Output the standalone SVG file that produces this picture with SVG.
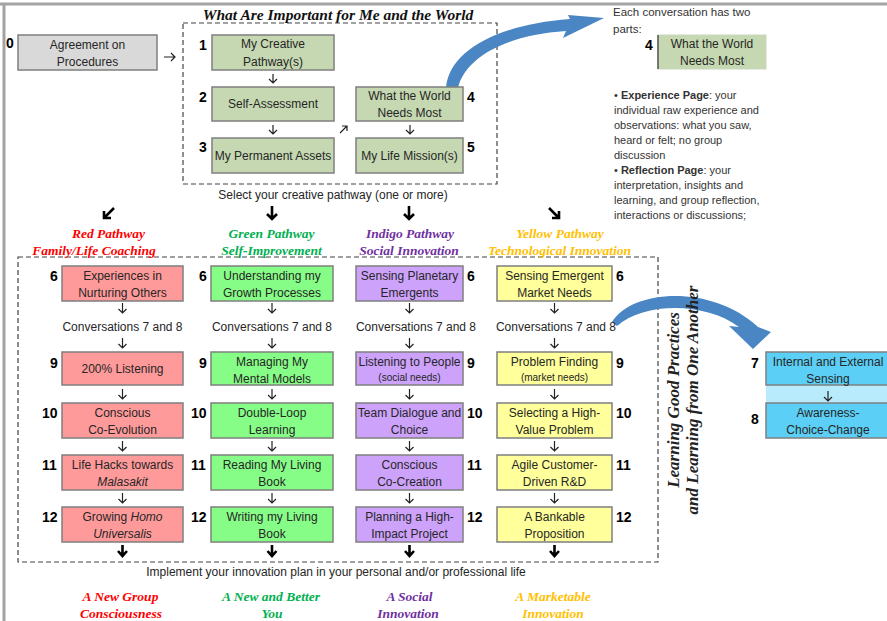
<svg xmlns="http://www.w3.org/2000/svg" width="887" height="621" viewBox="0 0 887 621">
<style>
.t{font-family:"Liberation Sans",Arial,sans-serif;font-size:12px;fill:#262626;text-anchor:middle}
.s{font-size:10px}
.n{font-family:"Liberation Sans",Arial,sans-serif;font-size:14px;font-weight:bold;fill:#000}
.h{font-family:"Liberation Serif","Times New Roman",serif;font-size:13.5px;font-weight:bold;font-style:italic;text-anchor:middle}
.v{font-size:17px;fill:#222}
.p{font-family:"Liberation Sans",Arial,sans-serif;font-size:11px;fill:#333}
.p2{font-size:11.5px}
.bx{stroke:#7f7f7f;stroke-width:1.5}
.g0{fill:#d9d9d9}.gg{fill:#c5d8b1}.r{fill:#ff9a9a}.gr{fill:#86fd86}.ig{fill:#cda2fb}.y{fill:#ffff9b}.bl{fill:#5ccff6}
.sa{fill:none;stroke:#222;stroke-width:1.2}
.ba{fill:none;stroke:#000;stroke-width:2.6}
.dash{fill:none;stroke:#444;stroke-width:1.2;stroke-dasharray:5,3}
.red{fill:#ff0000}.grn{fill:#00b050}.ind{fill:#7030a0}.yel{fill:#ffc000}
.arr{fill:#4a86c4}
</style>

<!-- frame -->
<line x1="0" y1="4" x2="887" y2="4" stroke="#a3a3a3" stroke-width="3"/>
<line x1="4" y1="4" x2="4" y2="621" stroke="#a3a3a3" stroke-width="3"/>

<text x="338" y="20" font-family="Liberation Serif,Times New Roman,serif" font-size="15.5" font-weight="bold" font-style="italic" text-anchor="middle" fill="#111">What Are Important for Me and the World</text>
<rect class="dash" x="183" y="23" width="314" height="161"/>
<rect class="dash" x="18" y="257" width="640" height="305"/>

<!-- connectors -->
<g id="connectors">
  <path class="sa" d="M164 57H175M171 53L175 57L171 61"/>
  <path class="sa" d="M273 74V83M269 79L273 83L277 79"/>
  <path class="sa" d="M273 125V134M269 130L273 134L277 130"/>
  <path class="sa" d="M410 125V134M406 130L410 134L414 130"/>
  <path class="sa" d="M340 133L347 126M342 126H347V131"/>
  <path class="ba" d="M114 208L104 218M104 211V218H111"/>
  <path class="ba" d="M272 206V219M267 214L272 219L277 214"/>
  <path class="ba" d="M409 206V219M404 214L409 219L414 214"/>
  <path class="ba" d="M549 208L559 218M559 211V218H552"/>
  <g id="colarrows">
    <path class="sa" d="M122.5 303V313M118.5 309L122.5 313L126.5 309M122.5 338V348M118.5 344L122.5 348L126.5 344M122.5 389V399M118.5 395L122.5 399L126.5 395M122.5 441V451M118.5 447L122.5 451L126.5 447M122.5 493V503M118.5 499L122.5 503L126.5 499"/>
    <path class="sa" d="M272 303V313M268 309L272 313L276 309M272 338V348M268 344L272 348L276 344M272 389V399M268 395L272 399L276 395M272 441V451M268 447L272 451L276 447M272 493V503M268 499L272 503L276 499"/>
    <path class="sa" d="M409.5 303V313M405.5 309L409.5 313L413.5 309M409.5 338V348M405.5 344L409.5 348L413.5 344M409.5 389V399M405.5 395L409.5 399L413.5 395M409.5 441V451M405.5 447L409.5 451L413.5 447M409.5 493V503M405.5 499L409.5 503L413.5 499"/>
    <path class="sa" d="M554.5 303V313M550.5 309L554.5 313L558.5 309M554.5 338V348M550.5 344L554.5 348L558.5 344M554.5 389V399M550.5 395L554.5 399L558.5 395M554.5 441V451M550.5 447L554.5 451L558.5 447M554.5 493V503M550.5 499L554.5 503L558.5 499"/>
    <path class="ba" d="M122.5 545V556M118 551L122.5 556L127 551M272 545V556M267.5 551L272 556L276.5 551M409.5 545V556M405 551L409.5 556L414 551M554.5 545V556M550 551L554.5 556L559 551"/>
  </g>
  <path class="arr" d="M446 88C449 50 500 24 570 19L568 15L604 18L563 38L566 31C505 35 465 58 458 88Z"/>
  <path class="arr" d="M612 322C632 289 712 284 758 327L771 332L753 349L729 326L739 327C705 302 645 302 617 326Z"/>
</g>

<!-- top section -->
<g id="n0"><rect class="bx g0" x="18" y="35" width="139" height="35"/><text class="n" x="6" y="48">0</text><text class="t" x="87.5" y="49">Agreement on</text><text class="t" x="87.5" y="66">Procedures</text></g>
<g id="n1"><rect class="bx gg" x="212" y="35" width="122" height="35"/><text class="n" x="199" y="50">1</text><text class="t" x="273" y="48">My Creative</text><text class="t" x="273" y="66">Pathway(s)</text></g>
<g id="n2"><rect class="bx gg" x="212" y="87" width="122" height="34"/><text class="n" x="199" y="102">2</text><text class="t" x="273" y="108">Self-Assessment</text></g>
<g id="n3"><rect class="bx gg" x="212" y="138" width="122" height="35"/><text class="n" x="199" y="152">3</text><text class="t" x="273" y="160">My Permanent Assets</text></g>
<g id="n4"><rect class="bx gg" x="356" y="87" width="107" height="34"/><text class="n" x="467" y="102">4</text><text class="t" x="409.5" y="100">What the World</text><text class="t" x="409.5" y="117">Needs Most</text></g>
<g id="n5"><rect class="bx gg" x="356" y="138" width="107" height="35"/><text class="n" x="467" y="152">5</text><text class="t" x="409.5" y="160">My Life Mission(s)</text></g>

<text class="t" x="333" y="199">Select your creative pathway (one or more)</text>

<!-- right panel -->
<g id="panel">
<text class="p p2" x="613" y="16">Each conversation has two</text>
<text class="p p2" x="613" y="33">parts:</text>
<rect class="gg" x="658" y="35" width="108" height="34" stroke="#c9d6bd" stroke-width="1"/>
<line x1="658" y1="35" x2="658" y2="69" stroke="#555" stroke-width="1.5"/>
<text class="n" x="645" y="50">4</text>
<text class="t" x="712" y="48">What the World</text>
<text class="t" x="712" y="65">Needs Most</text>
<text class="p" x="614" y="99">• <tspan font-weight="bold">Experience Page</tspan>:  your</text>
<text class="p" x="614" y="114">individual raw experience and</text>
<text class="p" x="614" y="129">observations: what you saw,</text>
<text class="p" x="614" y="144">heard or felt; no group</text>
<text class="p" x="614" y="159">discussion</text>
<text class="p" x="614" y="174">• <tspan font-weight="bold">Reflection Page</tspan>: your</text>
<text class="p" x="614" y="189">interpretation, insights and</text>
<text class="p" x="614" y="204">learning, and group reflection,</text>
<text class="p" x="614" y="219">interactions or discussions;</text>
</g>

<!-- headers -->
<text class="h red" x="108.5" y="238">Red Pathway</text>
<text class="h red" x="94" y="255">Family/Life Coaching</text>
<text class="h grn" x="271.5" y="238">Green Pathway</text>
<text class="h grn" x="271.5" y="255">Self-Improvement</text>
<text class="h ind" x="410" y="238">Indigo Pathway</text>
<text class="h ind" x="409" y="255">Social Innovation</text>
<text class="h yel" x="560" y="238">Yellow Pathway</text>
<text class="h yel" x="559.5" y="255">Technological Innovation</text>

<!-- red column -->
<g id="r6"><rect class="bx r" x="62" y="266" width="121" height="35"/><text class="n" x="50" y="281">6</text><text class="t" x="122.5" y="280">Experiences in</text><text class="t" x="122.5" y="297">Nurturing Others</text></g>
<text class="t" x="122.5" y="331">Conversations 7 and 8</text>
<g id="r9"><rect class="bx r" x="62" y="352" width="121" height="33"/><text class="n" x="50" y="368">9</text><text class="t" x="122.5" y="373">200% Listening</text></g>
<g id="r10"><rect class="bx r" x="62" y="403" width="121" height="35"/><text class="n" x="42" y="418">10</text><text class="t" x="122.5" y="417">Conscious</text><text class="t" x="122.5" y="434">Co-Evolution</text></g>
<g id="r11"><rect class="bx r" x="62" y="455" width="121" height="35"/><text class="n" x="42" y="470">11</text><text class="t" x="122.5" y="469">Life Hacks towards</text><text class="t" x="122.5" y="486" font-style="italic">Malasakit</text></g>
<g id="r12"><rect class="bx r" x="62" y="507" width="121" height="35"/><text class="n" x="42" y="522">12</text><text class="t" x="122.5" y="521">Growing <tspan font-style="italic">Homo</tspan></text><text class="t" x="122.5" y="538" font-style="italic">Universalis</text></g>

<!-- green column -->
<g id="g6"><rect class="bx gr" x="211" y="266" width="122" height="35"/><text class="n" x="199" y="281">6</text><text class="t" x="272" y="280">Understanding my</text><text class="t" x="272" y="297">Growth Processes</text></g>
<text class="t" x="272" y="331">Conversations 7 and 8</text>
<g id="g9"><rect class="bx gr" x="211" y="352" width="122" height="33"/><text class="n" x="199" y="368">9</text><text class="t" x="272" y="366">Managing My</text><text class="t" x="272" y="383">Mental Models</text></g>
<g id="g10"><rect class="bx gr" x="211" y="403" width="122" height="35"/><text class="n" x="191" y="418">10</text><text class="t" x="272" y="417">Double-Loop</text><text class="t" x="272" y="434">Learning</text></g>
<g id="g11"><rect class="bx gr" x="211" y="455" width="122" height="35"/><text class="n" x="191" y="470">11</text><text class="t" x="272" y="469">Reading My Living</text><text class="t" x="272" y="486">Book</text></g>
<g id="g12"><rect class="bx gr" x="211" y="507" width="122" height="35"/><text class="n" x="191" y="522">12</text><text class="t" x="272" y="521">Writing my Living</text><text class="t" x="272" y="538">Book</text></g>

<!-- indigo column -->
<g id="i6"><rect class="bx ig" x="356" y="266" width="107" height="35"/><text class="n" x="467" y="281">6</text><text class="t" x="409.5" y="280">Sensing Planetary</text><text class="t" x="409.5" y="297">Emergents</text></g>
<text class="t" x="416" y="331">Conversations 7 and 8</text>
<g id="i9"><rect class="bx ig" x="356" y="352" width="107" height="33"/><text class="n" x="467" y="368">9</text><text class="t" x="409.5" y="366">Listening to People</text><text class="t s" x="409.5" y="381">(social needs)</text></g>
<g id="i10"><rect class="bx ig" x="356" y="403" width="107" height="35"/><text class="n" x="467" y="418">10</text><text class="t" x="409.5" y="417">Team Dialogue and</text><text class="t" x="409.5" y="434">Choice</text></g>
<g id="i11"><rect class="bx ig" x="356" y="455" width="107" height="35"/><text class="n" x="467" y="470">11</text><text class="t" x="409.5" y="469">Conscious</text><text class="t" x="409.5" y="486">Co-Creation</text></g>
<g id="i12"><rect class="bx ig" x="356" y="507" width="107" height="35"/><text class="n" x="467" y="522">12</text><text class="t" x="409.5" y="521">Planning a High-</text><text class="t" x="409.5" y="538">Impact Project</text></g>

<!-- yellow column -->
<g id="y6"><rect class="bx y" x="497" y="266" width="115" height="35"/><text class="n" x="616" y="281">6</text><text class="t" x="554.5" y="280">Sensing Emergent</text><text class="t" x="554.5" y="297">Market Needs</text></g>
<text class="t" x="556" y="331">Conversations 7 and 8</text>
<g id="y9"><rect class="bx y" x="497" y="352" width="115" height="33"/><text class="n" x="616" y="368">9</text><text class="t" x="554.5" y="366">Problem Finding</text><text class="t s" x="554.5" y="381">(market needs)</text></g>
<g id="y10"><rect class="bx y" x="497" y="403" width="115" height="35"/><text class="n" x="616" y="418">10</text><text class="t" x="554.5" y="417">Selecting a High-</text><text class="t" x="554.5" y="434">Value Problem</text></g>
<g id="y11"><rect class="bx y" x="497" y="455" width="115" height="35"/><text class="n" x="616" y="470">11</text><text class="t" x="554.5" y="469">Agile Customer-</text><text class="t" x="554.5" y="486">Driven R&amp;D</text></g>
<g id="y12"><rect class="bx y" x="497" y="507" width="115" height="35"/><text class="n" x="616" y="522">12</text><text class="t" x="554.5" y="521">A Bankable</text><text class="t" x="554.5" y="538">Proposition</text></g>

<!-- vertical text -->
<text class="h v" x="0" y="0" transform="translate(679,400) rotate(-90)">Learning Good Practices</text>
<text class="h v" x="0" y="0" transform="translate(698,400) rotate(-90)">and Learning from One Another</text>

<!-- blue nodes -->
<rect x="766" y="385" width="125" height="18" fill="#b8ecfc"/>
<path class="sa" d="M828 391V401M824 397L828 401L832 397"/>
<g id="n7"><rect class="bx bl" x="766" y="352" width="125" height="33"/><text class="n" x="751" y="368">7</text><text class="t" x="828" y="366">Internal and External</text><text class="t" x="828" y="383">Sensing</text></g>
<g id="n8"><rect class="bx bl" x="766" y="403" width="125" height="35"/><text class="n" x="751" y="424">8</text><text class="t" x="828" y="417">Awareness-</text><text class="t" x="828" y="434">Choice-Change</text></g>

<text class="t" x="336" y="576">Implement your innovation plan in your personal and/or professional life</text>

<!-- outcomes -->
<text class="h red" x="120.5" y="601">A New Group</text>
<text class="h red" x="121" y="618">Consciousness</text>
<text class="h grn" x="271" y="601">A New and Better</text>
<text class="h grn" x="272" y="618">You</text>
<text class="h ind" x="409.5" y="601">A Social</text>
<text class="h ind" x="408" y="618">Innovation</text>
<text class="h yel" x="553" y="601">A Marketable</text>
<text class="h yel" x="553" y="618">Innovation</text>
</svg>
